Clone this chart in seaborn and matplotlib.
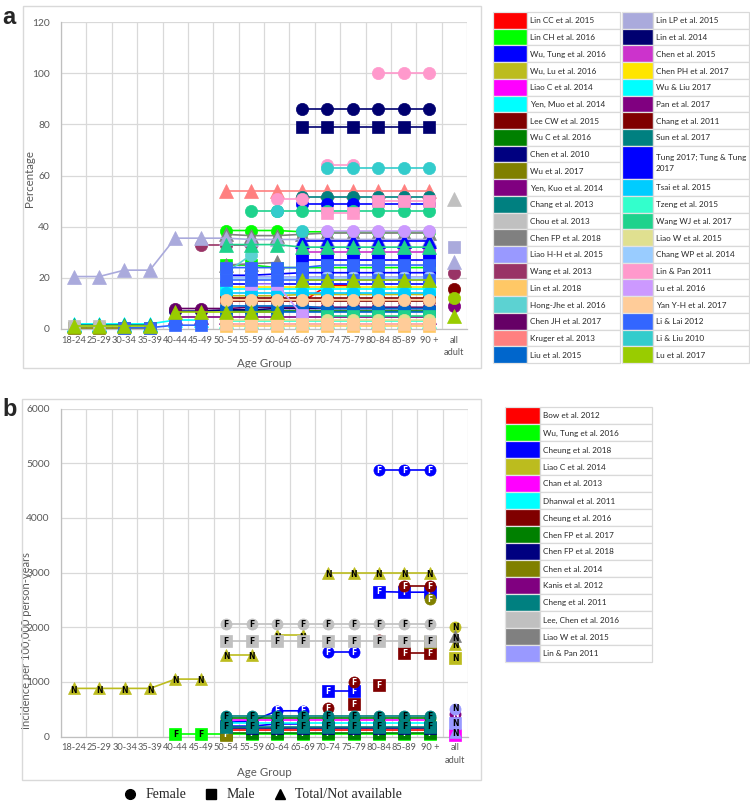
import numpy as np
import matplotlib.pyplot as plt
import seaborn as sns
from matplotlib.patches import Rectangle
from matplotlib.lines import Line2D

sns.set_theme(style="white")
plt.rcParams['font.family'] = ['Lato', 'DejaVu Sans']

W, H = 750, 801

AGE_GROUPS = ['18-24', '25-29', '30-34', '35-39', '40-44', '45-49', '50-54', '55-59',
              '60-64', '65-69', '70-74', '75-79', '80-84', '85-89', '90 +', 'all\nadult']

# ---- panel a legend (left column, then right column)
A_NAMES = ['Lin CC et al. 2015', 'Lin CH et al. 2016', 'Wu, Tung et al. 2016', 'Wu, Lu et al. 2016',
           'Liao C et al. 2014', 'Yen, Muo et al. 2014', 'Lee CW et al. 2015', 'Wu C et al. 2016',
           'Chen et al. 2010', 'Wu et al. 2017', 'Yen, Kuo et al. 2014', 'Chang et al. 2013',
           'Chou et al. 2013', 'Chen FP et al. 2018', 'Liao H-H et al. 2015', 'Wang et al. 2013',
           'Lin et al. 2018', 'Hong-Jhe et al. 2016', 'Chen JH et al. 2017', 'Kruger et al. 2013',
           'Liu et al. 2015',
           'Lin LP et al. 2015', 'Lin et al. 2014', 'Chen et al. 2015', 'Chen PH et al. 2017',
           'Wu & Liu 2017', 'Pan et al. 2017', 'Chang et al. 2011', 'Sun et al. 2017',
           'Tung 2017; Tung & Tung\n2017', 'Tsai et al. 2015', 'Tzeng et al. 2015',
           'Wang WJ et al. 2017', 'Liao W et al. 2015', 'Chang WP et al. 2014', 'Lin & Pan 2011',
           'Lu et al. 2016', 'Yan Y-H et al. 2017', 'Li & Lai 2012', 'Li & Liu 2010', 'Lu et al. 2017']
A_COLORS = ['#FF0000', '#00FF00', '#0000FF', '#BCBC1E', '#FF00FF', '#00FFFF', '#800000', '#008000',
            '#000080', '#808000', '#800080', '#008080', '#C0C0C0', '#808080', '#9999FF', '#993366',
            '#FFC866', '#5CD2D2', '#660066', '#FF8080', '#0066CC',
            '#AAAADC', '#000070', '#CC33CC', '#FFE500', '#00FFFF', '#800080', '#800000', '#008080',
            '#0000FF', '#00CCFF', '#33FFCC', '#1ED28C', '#E0E090', '#99CCFF', '#FF99CC',
            '#CC99FF', '#FFCC99', '#3366FF', '#33CCCC', '#99CC00']
A_LEFT_ROWS = 21
TUNG = 'Tung 2017; Tung & Tung\n2017'

# panel a values (%): (study, first age-group index, values)
a_female = [
    ('Lin CH et al. 2016', 6, [38.5, 38.5, 38.5, 38, 38, 38, 38, 38, 38]),
    ('Wu, Tung et al. 2016', 6, [21, 21, 21.5, 22, 22, 22, 22, 22, 22]),
    ('Wu, Lu et al. 2016', 6, [13, 13, 13, 13.5, 13.5, 13.5, 13.5, 13.5, 13.5]),
    ('Lee CW et al. 2015', 6, [11, 11, 11, 11, 11, 11, 11, 11, 11]),
    ('Wu C et al. 2016', 6, [7, 7, 7, 7, 7, 7, 7, 7, 7]),
    ('Chen et al. 2010', 4, [7, 7, 7.5, 7.5, 8, 8, 8, 8, 8, 8, 8]),
    ('Liao H-H et al. 2015', 6, [20.5, 20.5, 20.5, 20.5, 20.5, 20.5, 20.5, 20.5, 20.5]),
    ('Wang et al. 2013', 5, [33, 33, 33]),
    ('Wang et al. 2013', 15, [22]),
    ('Hong-Jhe et al. 2016', 6, [22, 29]),
    ('Chen JH et al. 2017', 4, [8, 8, 8, 8.5, 8.5, 8.5, 8.5, 8.5, 8.5, 8.5, 8.5]),
    ('Liu et al. 2015', 6, [9, 9, 9, 9, 8, 8, 8, 8, 8]),
    ('Lin et al. 2014', 9, [86, 86, 86, 86, 86, 86]),
    ('Chen PH et al. 2017', 6, [16.5, 16.5, 16.5, 16.5, 16.5, 16.5, 16.5, 16.5, 16.5]),
    ('Pan et al. 2017', 15, [9]),
    ('Chang et al. 2011', 6, [12, 12, 12, 12, 12, 12, 12, 12, 12]),
    ('Chang et al. 2011', 15, [15.5]),
    ('Sun et al. 2017', 9, [51.5, 51.5, 51.5, 51.5, 51.5, 51.5]),
    (TUNG, 9, [49, 49, 49, 49, 49, 49]),
    ('Tsai et al. 2015', 6, [14, 14, 14, 14, 14, 14, 14, 14, 14]),
    ('Wang WJ et al. 2017', 7, [46, 46, 46, 46, 46, 46, 46, 46]),
    ('Liao W et al. 2015', 6, [3.5, 3.5, 3.5, 3.5, 3.5, 3.5, 3.5, 3.5, 3.5]),
    ('Chang WP et al. 2014', 6, [20, 20, 20, 20, 20, 20, 20, 20, 20]),
    ('Lin & Pan 2011', 8, [51, 51]),
    ('Lin & Pan 2011', 10, [64, 64]),
    ('Lin & Pan 2011', 12, [100, 100, 100]),
    ('Lu et al. 2016', 10, [38.5, 38.5, 38.5, 38.5, 38.5]),
    ('Yan Y-H et al. 2017', 6, [11.5, 11.5, 11.5, 11.5, 11.5, 11.5, 11.5, 11.5, 11.5]),
    ('Li & Liu 2010', 8, [46]),
    ('Li & Liu 2010', 9, [38.5]),
    ('Li & Liu 2010', 10, [63, 63, 63, 63, 63]),
    ('Lu et al. 2017', 15, [12]),
]
a_male = [
    ('Lin CH et al. 2016', 6, [25, 25, 24, 24, 24, 24, 24, 24, 24]),
    ('Wu, Tung et al. 2016', 6, [17.5, 17.5, 17.5, 17.5, 17.5, 17.5, 17.5, 17.5, 17.5]),
    ('Liao C et al. 2014', 6, [2, 2, 2, 2, 2, 2, 2, 2, 2]),
    ('Wu et al. 2017', 0, [0.5, 0.5, 0.5, 0.5]),
    ('Chou et al. 2013', 0, [1, 1]),
    ('Liu et al. 2015', 6, [6.5, 6.5, 6.5, 6.5, 6.5, 6.5, 6.5, 6.5, 6.5]),
    ('Lin et al. 2018', 6, [1, 1, 1, 1, 1, 1, 1, 1, 1]),
    ('Lin LP et al. 2015', 15, [32]),
    ('Lin et al. 2014', 9, [79, 79, 79, 79, 79, 79]),
    ('Chen et al. 2015', 9, [30, 30, 30, 30, 30, 30]),
    ('Wu & Liu 2017', 6, [15.5, 15.5, 15.5, 15.5, 15.5, 15.5, 15.5, 15.5, 15.5]),
    (TUNG, 9, [27, 27, 27, 27, 27, 27]),
    ('Wang WJ et al. 2017', 10, [5, 5, 5, 5, 5]),
    ('Lin & Pan 2011', 10, [45.5, 45.5]),
    ('Lin & Pan 2011', 12, [50, 50, 50]),
    ('Lu et al. 2016', 7, [17.5, 17.5, 5.5]),
    ('Yan Y-H et al. 2017', 6, [2, 2, 2, 2, 2, 2, 2, 2, 2]),
    ('Li & Lai 2012', 2, [0.5, 0.5, 1.5, 1.5]),
    ('Li & Lai 2012', 6, [24, 24, 24, 24, 25, 25, 25, 25, 25]),
    ('Li & Lai 2012', 6, [19, 19, 19, 19, 19, 19, 19, 19, 19]),
]
a_total = [
    ('Lin CC et al. 2015', 9, [10.5, 17, 17]),
    ('Yen, Muo et al. 2014', 0, [2, 2, 2, 2, 3.5, 3.5]),
    ('Yen, Kuo et al. 2014', 4, [4.5, 4.5, 4.5, 4.5, 4.5, 4.5, 4.5, 4.5, 4.5, 4.5, 4.5]),
    ('Chang et al. 2013', 0, [1.5, 1.5, 1.5, 1.5]),
    ('Chou et al. 2013', 15, [51]),
    ('Chen FP et al. 2018', 6, [37, 36.5, 36.5, 37, 37.5, 37.5, 37.5, 37.5, 37.5]),
    ('Chen FP et al. 2018', 6, [25, 25.5, 26]),
    ('Kruger et al. 2013', 6, [54, 54, 54, 54, 54, 54, 54, 54, 54]),
    ('Lin LP et al. 2015', 0, [20.5, 20.5, 23, 23, 35.5, 35.5, 35.5, 35, 35, 35, 35, 35, 35, 35, 35]),
    ('Lin LP et al. 2015', 15, [26]),
    (TUNG, 9, [34.5, 34.5, 34.5, 34.5, 34.5, 34.5]),
    ('Tzeng et al. 2015', 6, [3, 3, 3, 3, 3, 3, 3, 3, 3]),
    ('Wang WJ et al. 2017', 6, [33, 33, 33, 32, 32, 32, 32, 32, 32]),
    ('Lu et al. 2017', 0, [1, 1, 1, 1]),
    ('Lu et al. 2017', 4, [6.5, 6.5, 6.5, 6.5, 6.5]),
    ('Lu et al. 2017', 9, [19, 19, 19, 19, 19, 19]),
    ('Lu et al. 2017', 15, [5]),
]

# ---- panel b legend
B_NAMES = ['Bow et al. 2012', 'Wu, Tung et al. 2016', 'Cheung et al. 2018', 'Liao C et al. 2014',
           'Chan et al. 2013', 'Dhanwal et al. 2011', 'Cheung et al. 2016', 'Chen FP et al. 2017',
           'Chen FP et al. 2018', 'Chen et al. 2014', 'Kanis et al. 2012', 'Cheng et al. 2011',
           'Lee, Chen et al. 2016', 'Liao W et al. 2015', 'Lin & Pan 2011']
B_COLORS = ['#FF0000', '#00FF00', '#0000FF', '#BCBC1E', '#FF00FF', '#00FFFF', '#800000', '#008000',
            '#000080', '#808000', '#800080', '#008080', '#C0C0C0', '#808080', '#9999FF']
B_LETTER_N = ['Liao C et al. 2014', 'Lin & Pan 2011', 'Liao W et al. 2015', 'Kanis et al. 2012']
B_DARK = ['#0000FF', '#800000', '#008000', '#000080', '#808000', '#800080']

# panel b values (per 100,000 person-years)
b_female = [
    ('Bow et al. 2012', 6, [120, 120, 120, 120, 120, 120, 120, 120, 120]),
    ('Cheung et al. 2018', 6, [260, 280, 470, 470]),
    ('Cheung et al. 2018', 10, [1540, 1540]),
    ('Cheung et al. 2018', 12, [4870, 4870, 4870]),
    ('Liao C et al. 2014', 15, [2000]),
    ('Dhanwal et al. 2011', 6, [240, 240, 240, 240, 240, 240, 240, 240, 240]),
    ('Cheung et al. 2016', 10, [520]),
    ('Cheung et al. 2016', 11, [990]),
    ('Cheung et al. 2016', 12, [1760]),
    ('Cheung et al. 2016', 13, [2750, 2750]),
    ('Chen FP et al. 2017', 6, [330, 330, 330, 330, 330, 330, 330, 330, 330]),
    ('Chen et al. 2014', 14, [2510]),
    ('Kanis et al. 2012', 15, [410]),
    ('Cheng et al. 2011', 6, [370, 370, 370, 370, 370, 370, 370, 370, 370]),
    ('Lee, Chen et al. 2016', 6, [2050, 2050, 2050, 2050, 2050, 2050, 2050, 2050, 2050]),
    ('Lin & Pan 2011', 15, [510]),
]
b_male = [
    ('Wu, Tung et al. 2016', 4, [40, 40, 40, 40, 40, 40, 40, 40, 40, 40, 40]),
    ('Cheung et al. 2018', 6, [190, 190, 230, 230]),
    ('Cheung et al. 2018', 10, [830, 830]),
    ('Cheung et al. 2018', 12, [2650, 2640, 2640]),
    ('Liao C et al. 2014', 15, [1430]),
    ('Chan et al. 2013', 15, [30]),
    ('Cheung et al. 2016', 11, [590]),
    ('Cheung et al. 2016', 12, [935]),
    ('Cheung et al. 2016', 13, [1520, 1520]),
    ('Chen FP et al. 2017', 6, [60, 60, 60, 60, 60, 60, 60, 60, 60]),
    ('Chen FP et al. 2018', 6, [150, 150, 150, 150, 150, 150, 150, 150, 150]),
    ('Chen et al. 2014', 6, [30]),
    ('Chen et al. 2014', 14, [1730]),
    ('Cheng et al. 2011', 6, [180, 180, 180, 180, 180, 180, 180, 180, 180]),
    ('Lee, Chen et al. 2016', 6, [1740, 1740, 1740, 1740, 1740, 1740, 1740, 1740, 1740]),
    ('Lin & Pan 2011', 15, [240]),
]
b_total = [
    ('Liao C et al. 2014', 0, [880, 880, 880, 880, 1050, 1050]),
    ('Liao C et al. 2014', 6, [1500, 1500]),
    ('Liao C et al. 2014', 8, [1850, 1850]),
    ('Liao C et al. 2014', 10, [3000, 3000, 3000, 3000, 3000]),
    ('Liao C et al. 2014', 15, [1700]),
    ('Chan et al. 2013', 6, [300, 300, 300, 300, 300, 300, 300, 300, 300]),
    ('Liao W et al. 2015', 15, [1830]),
    ('Lin & Pan 2011', 15, [80]),
]

MARK = {'female': 'o', 'male': 's', 'total': '^'}
SEX_ORDER = ['female', 'male', 'total']

fig = plt.figure(figsize=(W / 100, H / 100), dpi=100)


def px_axes(x0, y0, x1, y1):
    return fig.add_axes([x0 / W, 1 - y1 / H, (x1 - x0) / W, (y1 - y0) / H])


def style_axis(ax, ymax, ystep):
    ax.set_xlim(-0.5, 15.5)
    ax.set_ylim(0, ymax)
    ax.set_yticks(np.arange(0, ymax + 1, ystep))
    ax.set_xticks(range(len(AGE_GROUPS)))
    ax.set_xticklabels(AGE_GROUPS, linespacing=1.5)
    ax.set_xticks(np.arange(-0.5, 16, 1), minor=True)
    ax.grid(which='minor', axis='x', color='#D9D9D9', lw=0.9)
    ax.grid(which='major', axis='y', color='#D9D9D9', lw=0.9)
    ax.grid(which='major', axis='x', visible=False)
    ax.tick_params(axis='x', which='major', length=0, labelsize=6.7, labelcolor='#595959', pad=5)
    ax.tick_params(axis='x', which='minor', length=4, color='#BFBFBF', width=0.8)
    ax.tick_params(axis='y', length=0, labelsize=7.4, labelcolor='#595959', pad=8)
    for s in ['top', 'right']:
        ax.spines[s].set_visible(False)
    for s in ['left', 'bottom']:
        ax.spines[s].set_color('#BFBFBF')
        ax.spines[s].set_linewidth(0.9)
    ax.set_xlabel('Age Group', fontsize=8.3, color='#595959')
    ax.xaxis.set_label_coords(0.5, -0.095)


def plot_panel(ax, groups, names, colors, ms, letters=False):
    items = []
    for sex, entries in groups:
        for study, start, vals in entries:
            items.append((names.index(study), SEX_ORDER.index(sex), sex, study, start, vals))
    items.sort(key=lambda t: (t[0], t[1]))
    for k, (_, _, sex, study, start, vals) in enumerate(items):
        col = colors[names.index(study)]
        xs = np.arange(start, start + len(vals))
        z = 3 + k * 0.02
        sns.lineplot(x=xs, y=vals, ax=ax, color=col, marker=MARK[sex], markersize=ms[sex],
                     markeredgecolor=col, markeredgewidth=0.5, linewidth=1.2,
                     errorbar=None, legend=False, clip_on=False, zorder=z)
        if letters:
            ch = 'N' if study in B_LETTER_N else 'F'
            tc = 'white' if col in B_DARK else 'black'
            dy = -1.2 if sex == 'total' else 0
            for x, v in zip(xs, vals):
                ax.annotate(ch, (x, v), xytext=(0, dy), textcoords='offset points',
                            ha='center', va='center', fontsize=5.5, fontweight='bold',
                            color=tc, zorder=z + 0.01, annotation_clip=False,
                            family='DejaVu Sans')


def draw_table(x_sw, x_txt, x_end, top, row_h, names, colors, spans):
    ax = px_axes(0, 0, W, H)
    ax.set_xlim(0, W)
    ax.set_ylim(H, 0)
    ax.axis('off')
    y = top
    for name, col, span in zip(names, colors, spans):
        h = row_h * span
        ax.add_patch(Rectangle((x_sw, y), x_txt - x_sw, h, facecolor=col,
                               edgecolor='#E3E3E3', lw=0.9))
        ax.add_patch(Rectangle((x_txt, y), x_end - x_txt, h, facecolor='white',
                               edgecolor='#D9D9D9', lw=0.9))
        ax.text(x_txt + 3, y + h / 2 + 0.5, name, va='center', ha='left', fontsize=5.9,
                color='#262626', linespacing=1.7)
        y += h
    return ax


# ---------------- panel a
ax_a = px_axes(61, 22, 467, 329)
style_axis(ax_a, 120, 20)
plot_panel(ax_a, [('female', a_female), ('male', a_male), ('total', a_total)],
           A_NAMES, A_COLORS, {'female': 8.8, 'male': 8.6, 'total': 9.4})
ax_a.set_ylabel('Percentage', fontsize=8.3, color='#595959')
ax_a.yaxis.set_label_coords(-0.064, 0.49)

# ---------------- panel b
ax_b = px_axes(61, 408.5, 468, 736.5)
style_axis(ax_b, 6000, 1000)
plot_panel(ax_b, [('female', b_female), ('male', b_male), ('total', b_total)],
           B_NAMES, B_COLORS, {'female': 8.0, 'male': 8.0, 'total': 8.8}, letters=True)
ax_b.set_ylabel('Incidence per 100,000 person-years', fontsize=8, color='#595959')
ax_b.yaxis.set_label_coords(-0.071, 0.294)
ax_b.xaxis.set_label_coords(0.5, -0.093)

# ---------------- legend tables
row_a = (363 - 12) / 21
left_n = A_NAMES[:A_LEFT_ROWS]
right_n = A_NAMES[A_LEFT_ROWS:]
draw_table(493, 527, 620, 12, row_a, left_n, A_COLORS[:A_LEFT_ROWS], [1] * len(left_n))
draw_table(622, 653, 749, 12, row_a, right_n, A_COLORS[A_LEFT_ROWS:],
           [2 if n == TUNG else 1 for n in right_n])
draw_table(505, 540, 652, 407, 17, B_NAMES, B_COLORS, [1] * len(B_NAMES))

# ---------------- panel frames and letters
for (x0, y0, x1, y1) in [(23, 6, 481, 368), (22, 399, 481, 780)]:
    fig.add_artist(Rectangle((x0 / W, 1 - y1 / H), (x1 - x0) / W, (y1 - y0) / H,
                             transform=fig.transFigure, fill=False, edgecolor='#D9D9D9', lw=1))
fig.text(2 / W, 1 - 18 / H, 'a', fontsize=17, fontweight='bold', va='center',
         family='Liberation Sans')
fig.text(2 / W, 1 - 410 / H, 'b', fontsize=17, fontweight='bold', va='center',
         family='Liberation Sans')

# ---------------- sex legend
handles = [Line2D([], [], marker=MARK[s], color='black', linestyle='none', markersize=7)
           for s in SEX_ORDER]
fig.legend(handles, ['Female', 'Male', 'Total/Not available'], loc='center',
           bbox_to_anchor=(262 / W, 1 - 795 / H), ncol=3, frameon=False,
           prop={'family': 'Liberation Serif', 'size': 10},
           handletextpad=0.5, columnspacing=1.2, handlelength=1.2,
           borderpad=0.1)

plt.savefig('out.png', dpi=100)
